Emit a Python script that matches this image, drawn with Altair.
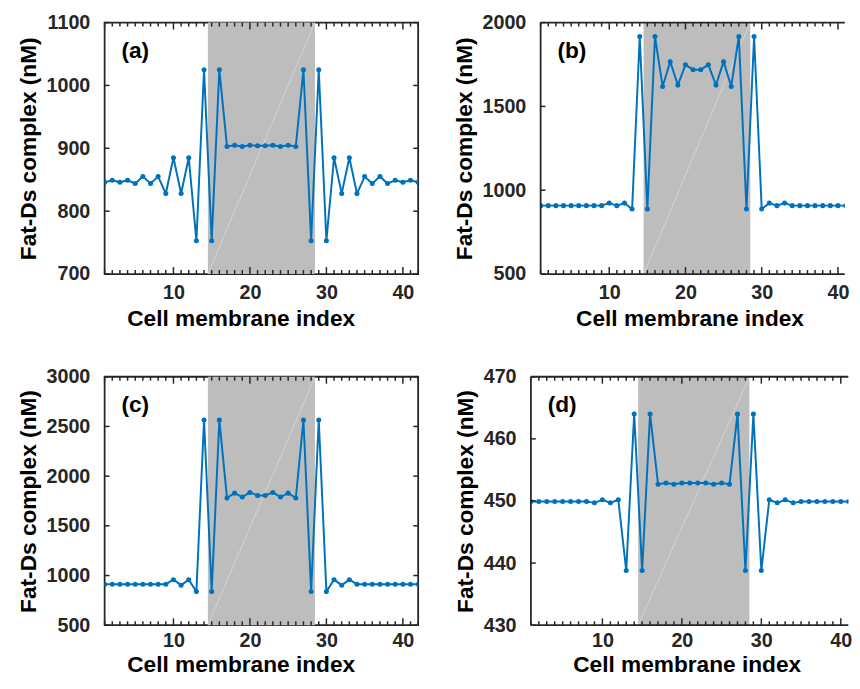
import altair as alt
import pandas as pd

# ---------------- data ----------------
cell_index = list(range(1, 43))

vals_a = [846, 849, 846, 849, 844, 855, 844, 855, 828, 885, 828, 885,
          753, 1025, 753, 1025,
          903, 905, 903, 905, 904, 904, 905, 903, 905, 903,
          1025, 753, 1025, 753,
          885, 828, 885, 828, 855, 844, 855, 844, 849, 846, 849, 846]

vals_b = [908, 908, 908, 908, 908, 908, 908, 908, 908, 923, 908, 923,
          888, 1917, 888, 1917,
          1619, 1767, 1627, 1748, 1719, 1719, 1748, 1627, 1767, 1619,
          1917, 888, 1917, 888,
          923, 908, 923, 908, 908, 908, 908, 908, 908, 908, 908, 908]

vals_c = [913, 913, 913, 913, 913, 913, 913, 913, 913, 958, 903, 958,
          839, 2565, 839, 2565,
          1781, 1829, 1790, 1836, 1806, 1806, 1836, 1790, 1829, 1781,
          2565, 839, 2565, 839,
          958, 903, 958, 913, 913, 913, 913, 913, 913, 913, 913, 913]

vals_d = [449.9, 449.9, 449.9, 449.9, 449.9, 449.9, 449.9, 449.9, 449.7, 450.2, 449.7, 450.2,
          438.8, 464.0, 438.8, 464.0,
          452.7, 452.9, 452.7, 452.9, 452.9, 452.9, 452.9, 452.7, 452.9, 452.7,
          464.0, 438.8, 464.0, 438.8,
          450.2, 449.7, 450.2, 449.7, 449.9, 449.9, 449.9, 449.9, 449.9, 449.9, 449.9, 449.9]

x_major = [10, 20, 30, 40]
x_minor = [i for i in range(1, 43) if i not in x_major]
shade_span = [14.5, 28.5]

ydom_a, yticks_a = [700, 1100], [700, 800, 900, 1000, 1100]
ydom_b, yticks_b = [500, 2000], [500, 1000, 1500, 2000]
ydom_c, yticks_c = [500, 3000], [500, 1000, 1500, 2000, 2500, 3000]
ydom_d, yticks_d = [430, 470], [430, 440, 450, 460, 470]

LINE = "#0072BD"
DARK = "#262626"
FONT = "Liberation Sans"
MINOR_LEN, MAJOR_LEN, Y_LEN = 4, 7, 5
FRAME_W = 1.8


def panel(vals, ydom, yticks, tag, w, h, xmax, title_x, label_pad, title_pad, cut_right):
    xdom = [1, xmax]
    xscale = alt.Scale(domain=xdom, nice=False, zero=False)
    yscale = alt.Scale(domain=ydom, nice=False, zero=False)
    xaxis = alt.Axis(values=x_major, title="Cell membrane index", labelPadding=label_pad,
                     titlePadding=title_pad, titleX=title_x, titleAlign="center")
    yaxis = alt.Axis(values=yticks, format="d", title="Fat-Ds complex (nM)",
                     labelPadding=15, titlePadding=6)

    def X(f):
        return alt.X(f, type="quantitative", scale=xscale, axis=xaxis)

    def Y(f):
        return alt.Y(f, type="quantitative", scale=yscale, axis=yaxis)

    # pixel lengths of the inward ticks expressed in data units
    xunit = (xdom[1] - xdom[0]) / w
    yunit = (ydom[1] - ydom[0]) / h

    shade_df = pd.DataFrame({"x0": [shade_span[0]], "x1": [shade_span[1]],
                             "y0": [ydom[0]], "y1": [ydom[1]]})
    df = pd.DataFrame({"x": cell_index, "v": vals})

    layers = []
    shade = alt.Chart(shade_df).mark_rect(color="#bdbdbd").encode(
        x=X("x0"), x2="x1", y=Y("y0"), y2="y1")
    diag = alt.Chart(shade_df).mark_rule(color="#e6e6e6", strokeWidth=0.7, opacity=0.8).encode(
        x=X("x0"), x2="x1", y=Y("y0"), y2="y1")
    line = alt.Chart(df).mark_line(
        color=LINE, strokeWidth=2, clip=True,
        point=alt.OverlayMarkDef(color=LINE, filled=True, size=26, opacity=1, clip=True)
    ).encode(x=X("x"), y=Y("v"))
    layers += [shade, diag, line]

    minor_t = [t for t in x_minor if t <= xmax]
    major_t = [t for t in x_major if t <= xmax]
    for ticks, length in ((minor_t, MINOR_LEN), (major_t, MAJOR_LEN)):
        bot = pd.DataFrame({"t": ticks, "a": ydom[0], "b": ydom[0] + length * yunit})
        top = pd.DataFrame({"t": ticks, "a": ydom[1], "b": ydom[1] - length * yunit})
        for d in (bot, top):
            layers.append(alt.Chart(d).mark_rule(color=DARK, strokeWidth=1.5).encode(
                x=X("t"), y=Y("a"), y2="b"))

    ysides = [pd.DataFrame({"t": yticks, "a": xdom[0], "b": xdom[0] + Y_LEN * xunit})]
    if not cut_right:
        ysides.append(pd.DataFrame({"t": yticks, "a": xdom[1], "b": xdom[1] - Y_LEN * xunit}))
    for d in ysides:
        layers.append(alt.Chart(d).mark_rule(color=DARK, strokeWidth=1.5).encode(
            y=Y("t"), x=X("a"), x2="b"))

    if cut_right:
        # axes box that runs on past the window's right edge: top, bottom and left sides
        hz = pd.DataFrame({"a": [xdom[0], xdom[0]], "b": [xdom[1], xdom[1]],
                           "y": [ydom[0], ydom[1]]})
        layers.append(alt.Chart(hz).mark_rule(color=DARK, strokeWidth=FRAME_W).encode(
            x=X("a"), x2="b", y=Y("y")))
        vt = pd.DataFrame({"x": [xdom[0]], "a": [ydom[0]], "b": [ydom[1]]})
        layers.append(alt.Chart(vt).mark_rule(color=DARK, strokeWidth=FRAME_W).encode(
            x=X("x"), y=Y("a"), y2="b"))

    label = alt.Chart(pd.DataFrame({"t": [tag]})).mark_text(
        font=FONT, fontSize=23, fontWeight="bold", color="#000000",
        align="left", baseline="middle"
    ).encode(x=alt.value(17), y=alt.value(29), text="t:N")
    layers.append(label)

    ch = alt.layer(*layers).properties(width=w, height=h)
    if cut_right:
        ch = ch.properties(view=alt.ViewBackground(stroke=None))
    return ch


pa = panel(vals_a, ydom_a, yticks_a, "(a)", 318, 255, 42, 138, 9, 5, False)
pb = panel(vals_b, ydom_b, yticks_b, "(b)", 308.5, 255, 40.9, 151, 9, 5, True)
pc = panel(vals_c, ydom_c, yticks_c, "(c)", 318, 252, 42, 138, 6, 3, False)
pd_ = panel(vals_d, ydom_d, yticks_d, "(d)", 322, 252, 40.95, 158, 6, 3, True)

chart = alt.vconcat(
    alt.hconcat(pa, pb, spacing=33.2),
    alt.hconcat(pc, pd_, spacing=34.3),
    spacing=35.2,
).properties(
    padding={"left": 8, "top": -1, "right": 0, "bottom": 0}
).configure_view(
    stroke=DARK, strokeWidth=FRAME_W
).configure_axis(
    grid=False, ticks=False, domain=False,
    labelFont=FONT, labelFontSize=20, labelFontWeight="bold", labelColor=DARK,
    titleFont=FONT, titleFontSize=23, titleFontWeight="bold", titleColor="#000000",
)

chart.save("out.html", embed_options={"renderer": "svg", "actions": False})
